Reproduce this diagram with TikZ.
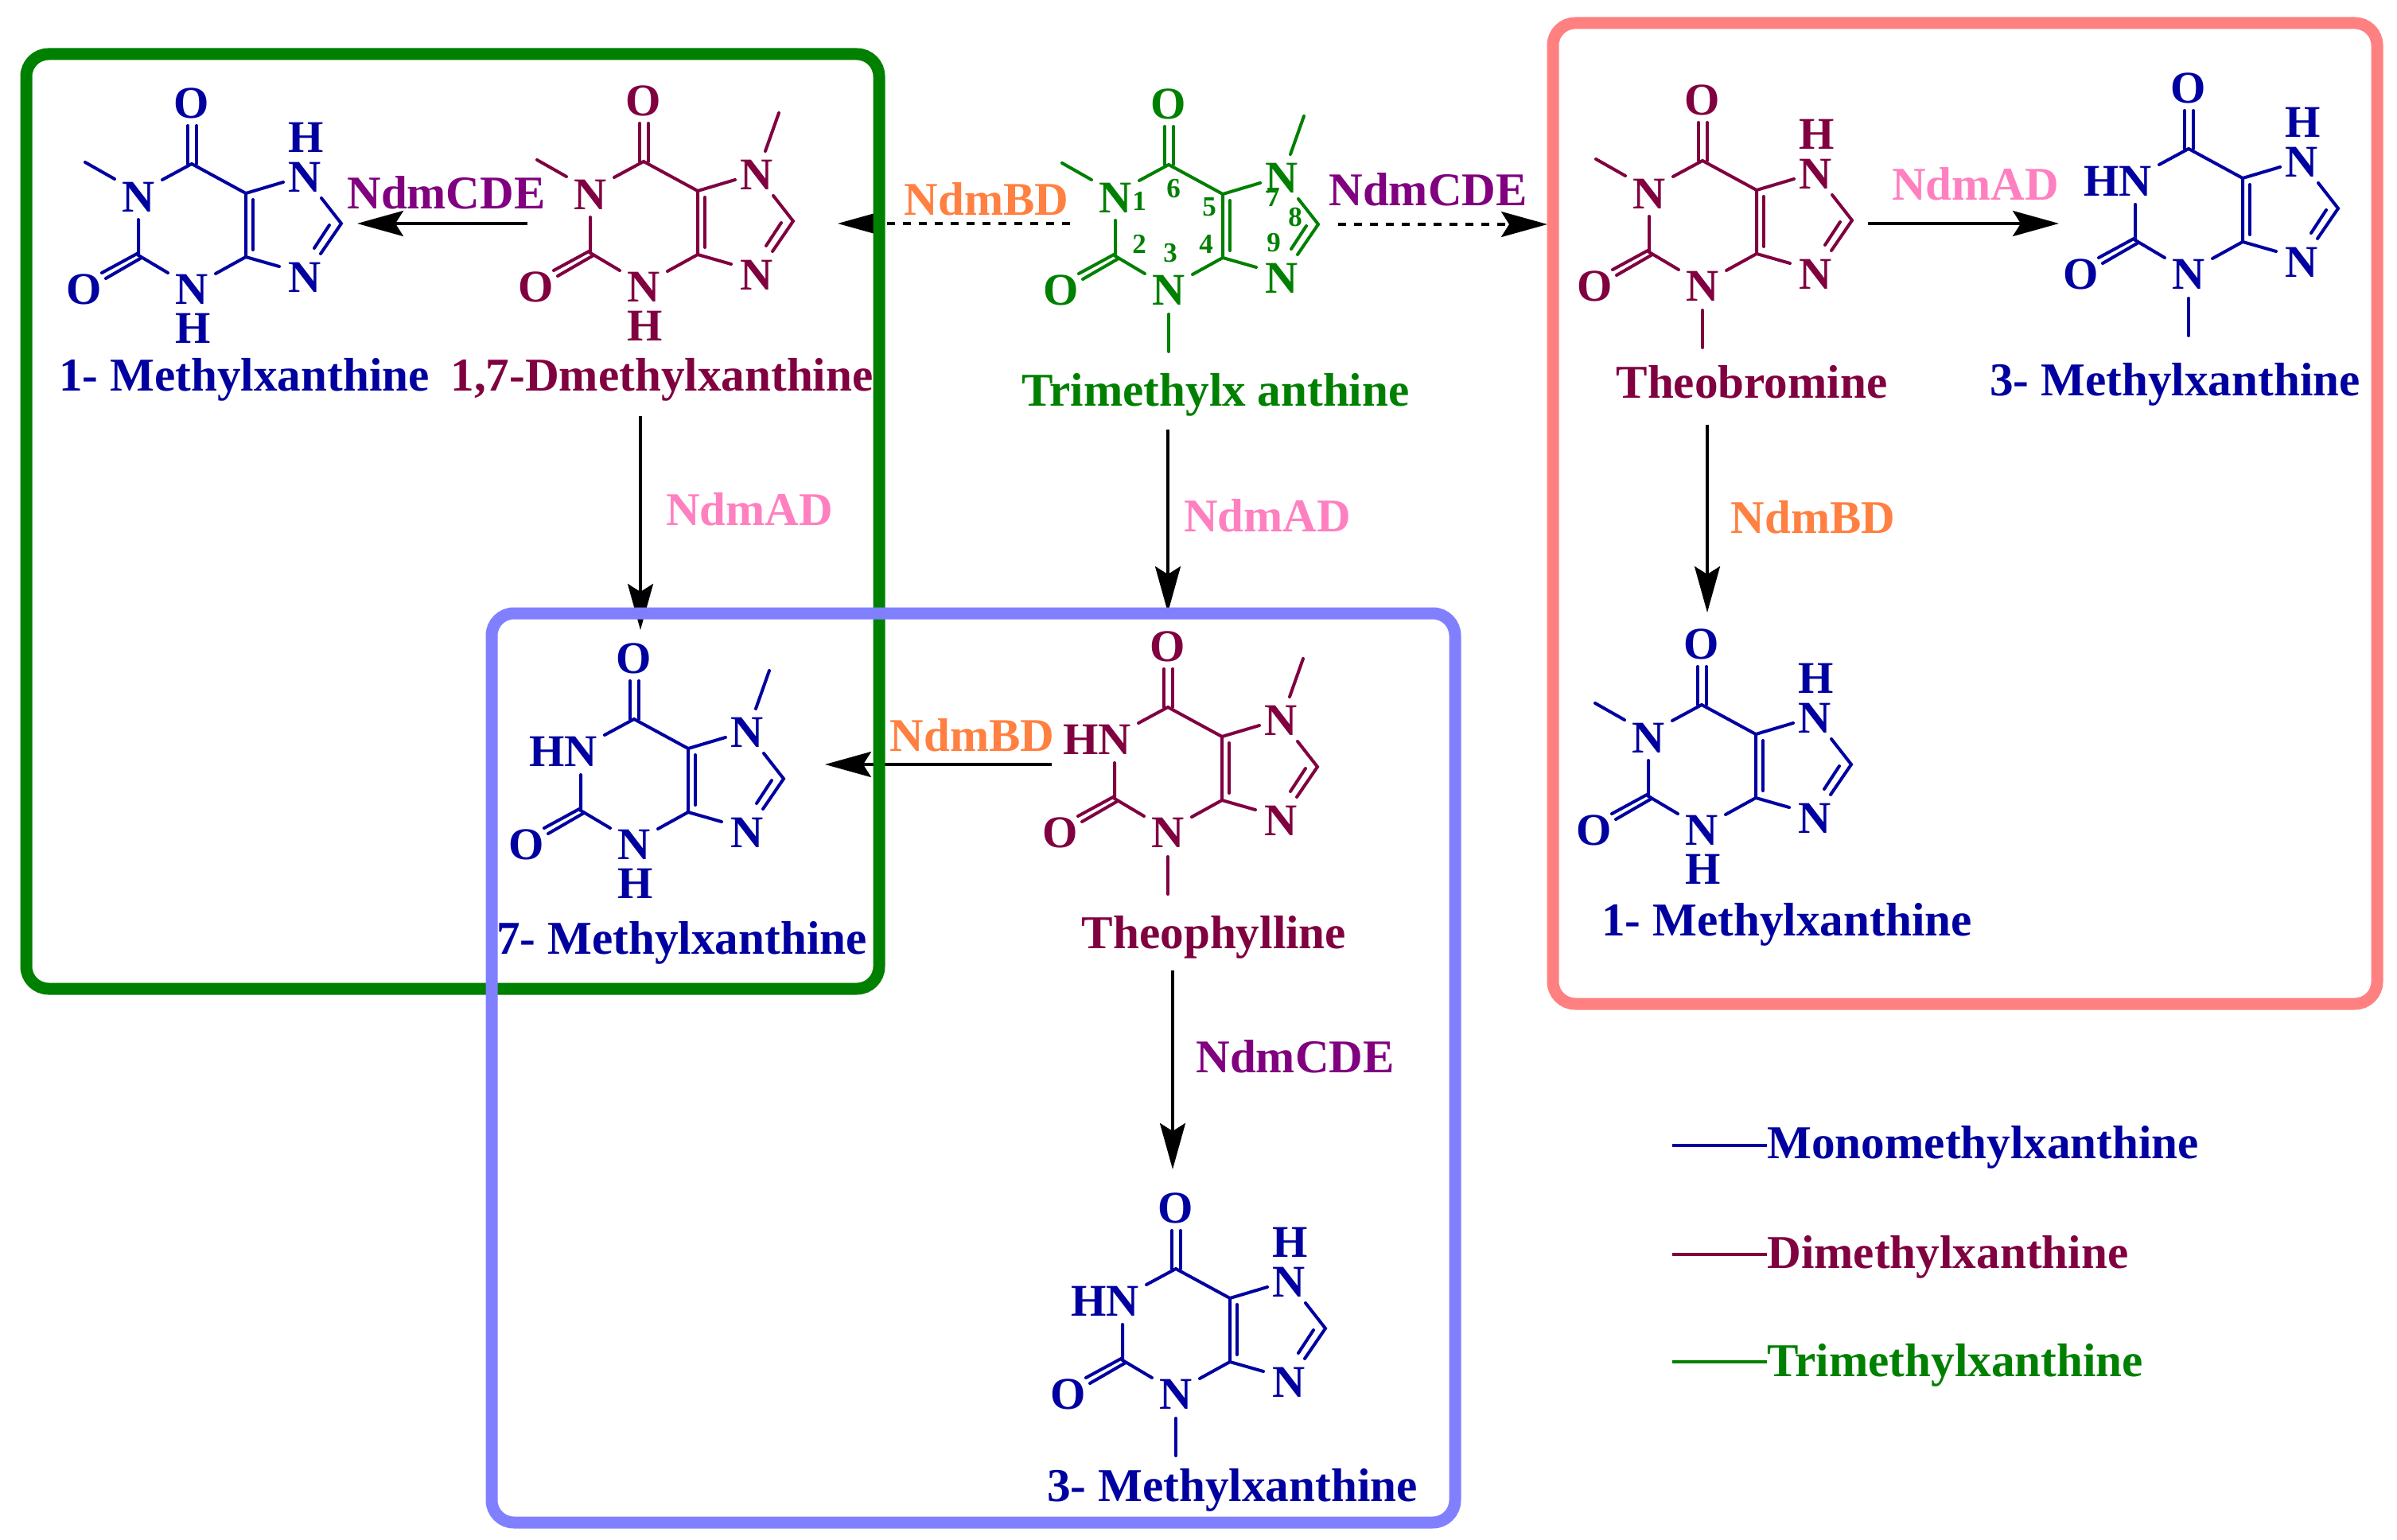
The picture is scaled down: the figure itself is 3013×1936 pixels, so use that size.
\documentclass[tikz,border=0pt]{standalone}
\usepackage{fontspec}
\setmainfont{Liberation Serif}
\usetikzlibrary{arrows.meta}
\definecolor{cMono}{HTML}{0000A0}
\definecolor{cDi}{HTML}{800040}
\definecolor{cTri}{HTML}{008000}
\definecolor{cBD}{HTML}{FF8040}
\definecolor{cAD}{HTML}{FF80C0}
\definecolor{cCDE}{HTML}{800080}
\definecolor{boxBlue}{HTML}{8080FF}
\definecolor{boxRed}{HTML}{FF8080}
\tikzset{
  x=0.5pt,y=-0.5pt,
  atomlabel/.style={inner sep=0pt,font=\fontsize{28.5}{30}\selectfont\bfseries},
  mollabel/.style={inner sep=0pt,font=\fontsize{29.6}{31}\selectfont\bfseries},
  enzyme/.style={inner sep=0pt,font=\fontsize{29.5}{31}\selectfont\bfseries},
  numlabel/.style={inner sep=0pt,font=\fontsize{17.5}{19}\selectfont\bfseries},
  bond/.style={line width=2pt,line cap=round},
  groupbox/.style={line width=7.5pt,rounded corners=14pt},
  rxn/.style={line width=1.8pt,-{Stealth[length=29pt,width=16pt,inset=5pt]}},
  rxndash/.style={rxn,dash pattern=on 5pt off 5pt},
  legendline/.style={line width=1.8pt},
}
\newcommand{\atomN}[3]{\node[atomlabel] (\molname-#1) at (#2) {#3};}
% substituent variants
\newcommand{\MeOne}{\atomN{N1}{-67,42}{N}\draw[bond] (-134,-2) -- (-97,19);}
\newcommand{\HOne}{\node[atomlabel,anchor=east] (\molname-N1) at (-46,41) {HN};}
\newcommand{\MeSeven}{\draw[bond] (153,-13) -- (170,-61);}
\newcommand{\HSeven}{\atomN{H7}{144,-33}{H}}
\newcommand{\MeThree}{\draw[bond] (0,188) -- (0,235);}
\newcommand{\HThree}{\atomN{H3}{2,207}{H}}
\newcommand{\mol}[5]{%
  \def\molname{#1}%
  \begin{scope}[shift={(#2,#3)},color=#4]
    \atomN{O6}{0,-76}{O}
    \atomN{N7}{142,17}{N}
    \atomN{N9}{142,143}{N}
    \atomN{N3}{0,158}{N}
    \atomN{O2}{-135,158}{O}
    #5
    \draw[bond] (-5,0) -- (-5,-48) (6,0) -- (6,-48);
    \draw[bond] (-37,20) -- (0,0) -- (68,37) -- (68,117) -- (30,138);
    \draw[bond] (77,45) -- (77,108);
    \draw[bond] (68,37) -- (115,23);
    \draw[bond] (68,117) -- (110,129);
    \draw[bond] (163,43) -- (188,75) -- (162,113);
    \draw[bond] (173,77) -- (154,106);
    \draw[bond] (-67,70) -- (-67,115) -- (-30,137);
    \draw[bond] (-67,112) -- (-113,137);
    \draw[bond] (-63,118) -- (-108,144);
  \end{scope}}
\begin{document}
\begin{tikzpicture}
\useasboundingbox (0,0) rectangle (3013,1936);
\fill[white] (0,0) rectangle (3013,1936);

% connector ends
\coordinate (a1s) at (1345,281); \coordinate (a1e) at (1053,281);
\coordinate (a2s) at (1682,282); \coordinate (a2e) at (1945,282);
\coordinate (a3s) at (663,281);  \coordinate (a3e) at (449,281);
\coordinate (a4s) at (805,523);  \coordinate (a4e) at (805,792);
\coordinate (a5s) at (1468,540); \coordinate (a5e) at (1468,770);
\coordinate (a6s) at (2146,534); \coordinate (a6e) at (2146,770);
\coordinate (a7s) at (2348,281); \coordinate (a7e) at (2588,281);
\coordinate (a8s) at (1322,961); \coordinate (a8e) at (1037,961);
\coordinate (a9s) at (1474,1220);\coordinate (a9e) at (1474,1470);
\draw[rxndash] (a1s) -- (a1e);
\draw[rxndash] (a2s) -- (a2e);
\draw[rxn] (a3s) -- (a3e);
\draw[rxn] (a4s) -- (a4e);
\draw[rxn] (a5s) -- (a5e);
\draw[rxn] (a6s) -- (a6e);
\draw[rxn] (a7s) -- (a7e);
\draw[rxn] (a8s) -- (a8e);
\draw[rxn] (a9s) -- (a9e);

% group boxes
\node[inner sep=0pt] (bxg) at (33,68) {}; \node[inner sep=0pt] (bxgb) at (1105,1243) {};
\draw[groupbox,cTri] (bxg) rectangle (bxgb);
\node[inner sep=0pt] (bxb) at (618,771) {}; \node[inner sep=0pt] (bxbb) at (1829,1914) {};
\draw[groupbox,boxBlue] (bxb) rectangle (bxbb);
\node[inner sep=0pt] (bxr) at (1952,29) {}; \node[inner sep=0pt] (bxrb) at (2988,1262) {};
\draw[groupbox,boxRed] (bxr) rectangle (bxrb);

% molecules
\mol{a}{241}{206}{cMono}{\MeOne\HSeven\HThree}
\mol{b}{809}{203}{cDi}{\MeOne\MeSeven\HThree}
\mol{c}{1469}{207}{cTri}{\MeOne\MeSeven\MeThree}
\mol{d}{2140}{202}{cDi}{\MeOne\HSeven\MeThree}
\mol{e}{2751}{187}{cMono}{\HOne\HSeven\MeThree}
\mol{f}{2139}{886}{cMono}{\MeOne\HSeven\HThree}
\mol{g}{797}{904}{cMono}{\HOne\MeSeven\HThree}
\mol{h}{1468}{889}{cDi}{\HOne\MeSeven\MeThree}
\mol{i}{1478}{1595}{cMono}{\HOne\HSeven\MeThree}

% atom numbers
\begin{scope}[color=cTri]
\node[numlabel] (n1) at (1432,253) {1};
\node[numlabel] (n2) at (1432,307) {2};
\node[numlabel] (n3) at (1471,318) {3};
\node[numlabel] (n4) at (1516,307) {4};
\node[numlabel] (n5) at (1520,260) {5};
\node[numlabel] (n6) at (1475,237) {6};
\node[numlabel] (n7) at (1600,248) {7};
\node[numlabel] (n8) at (1628,273) {8};
\node[numlabel] (n9) at (1601,305) {9};
\end{scope}

% molecule names
\node[mollabel,cMono] (l1) at (307,477) {1- Methylxanthine};
\node[mollabel,cDi]   (l2) at (832,477) {1,7-Dmethylxanthine};
\node[mollabel,cTri]  (l3) at (1528,496) {Trimethylx anthine};
\node[mollabel,cDi]   (l4) at (2202,480) {Theobromine};
\node[mollabel,cMono] (l5) at (2734,483) {3- Methylxanthine};
\node[mollabel,cMono] (l6) at (2246,1162) {1- Methylxanthine};
\node[mollabel,cMono] (l7) at (857,1185) {7- Methylxanthine};
\node[mollabel,cDi]   (l8) at (1526,1178) {Theophylline};
\node[mollabel,cMono] (l9) at (1549,1873) {3- Methylxanthine};

% enzymes
\node[enzyme,cCDE] (e1) at (561,242) {NdmCDE};
\node[enzyme,cBD]  (e2) at (1240,250) {NdmBD};
\node[enzyme,cCDE] (e3) at (1795,238) {NdmCDE};
\node[enzyme,cAD]  (e4) at (942,640) {NdmAD};
\node[enzyme,cAD]  (e5) at (1593,648) {NdmAD};
\node[enzyme,cBD]  (e6) at (2279,650) {NdmBD};
\node[enzyme,cAD]  (e7) at (2483,231) {NdmAD};
\node[enzyme,cBD]  (e8) at (1222,924) {NdmBD};
\node[enzyme,cCDE] (e9) at (1628,1328) {NdmCDE};

% legend
\node[mollabel,cMono,anchor=west] (k1) at (2221,1442) {Monomethylxanthine};
\node[mollabel,cDi,anchor=west]   (k2) at (2221,1580) {Dimethylxanthine};
\node[mollabel,cTri,anchor=west]  (k3) at (2221,1716) {Trimethylxanthine};
\coordinate (k1s) at (2102,1440); \coordinate (k2s) at (2102,1577); \coordinate (k3s) at (2102,1712);
\draw[legendline,cMono] (k1s) -- (k1s-|k1.west);
\draw[legendline,cDi]   (k2s) -- (k2s-|k2.west);
\draw[legendline,cTri]  (k3s) -- (k3s-|k3.west);
\end{tikzpicture}
\end{document}
